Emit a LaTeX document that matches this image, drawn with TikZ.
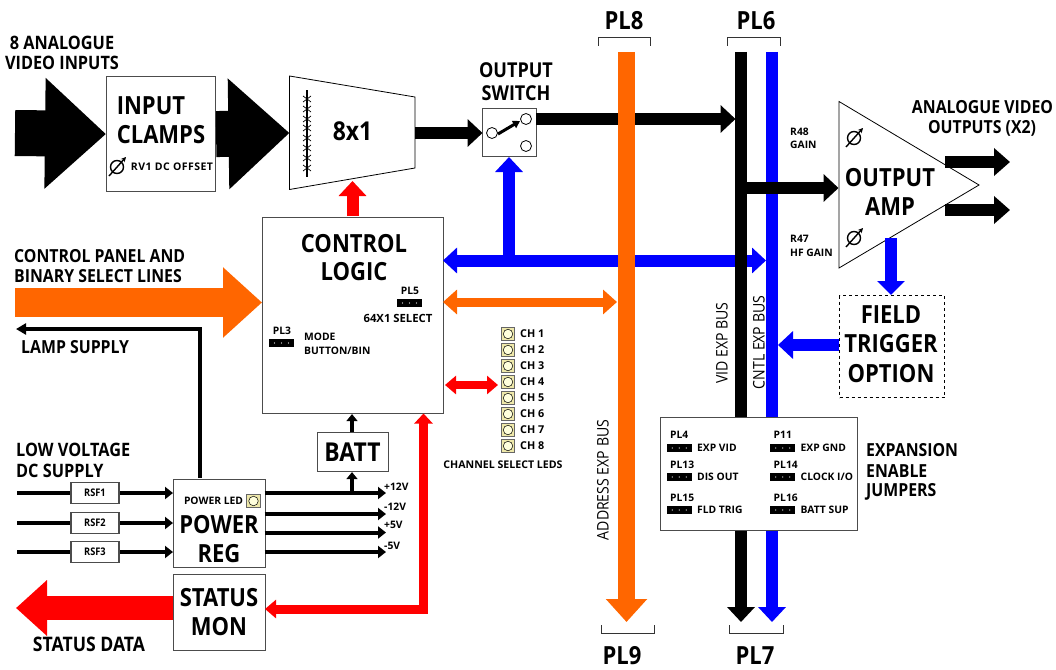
\documentclass[tikz,border=0pt]{standalone}
\usepackage{fontspec}
\setmainfont[FakeStretch=0.88]{Open Sans}
\newfontfamily\widef{Open Sans}
\newfontfamily\spacef[LetterSpace=4.5]{Open Sans}
\usetikzlibrary{arrows.meta,calc}
\definecolor{orng}{RGB}{255,102,0}
\definecolor{ledy}{RGB}{238,232,170}
\definecolor{ledc}{RGB}{255,255,220}
\newcommand{\fs}[1]{\fontsize{#1}{#1}\selectfont\bfseries}
\tikzset{
  box/.style={draw=black!70,line width=1.1pt,fill=white,inner sep=0pt},
  lbl/.style={inner sep=0,align=center,text=black},
  big/.style={lbl,font=\fs{25},yshift=-1pt},
  mid/.style={lbl,font=\fs{18}},
  small/.style={lbl,font=\widef\fs{10.3}},
  fat/.style args={#1/#2/#3/#4}{draw=#1,line width=#2pt,line cap=butt,-{Triangle[length=#3pt,width=#4pt,fill=#1]}},
  fatboth/.style args={#1/#2/#3/#4}{draw=#1,line width=#2pt,{Triangle[length=#3pt,width=#4pt,fill=#1]}-{Triangle[length=#3pt,width=#4pt,fill=#1]}},
  brk/.style={draw=black!80,line width=1pt},
  jump/.style={fill=black,draw=none,minimum width=25pt,minimum height=8pt,inner sep=0pt,
    path picture={\foreach \dx in {-7,0,7}{\fill[white] ($(path picture bounding box.center)+(\dx,0)$) circle (.7pt);}}},
  lednode/.style={rectangle,draw=black!60,fill=ledy,line width=.6pt,minimum size=13.5pt,inner sep=0pt},
  ledcore/.style={circle,draw=black,fill=ledc,line width=.5pt,minimum size=9.5pt,inner sep=0pt},
  port/.style={circle,draw=black,fill=white,line width=.8pt,minimum size=11pt,inner sep=0pt},
  busl/.style={lbl,rotate=90,font=\fontsize{16}{16}\selectfont},
  thinarrow/.style={line width=4pt,-{Triangle[length=8pt,width=12pt]}}
}
\newcommand{\pot}[1]{\draw[line width=1.4pt] (#1) circle (6.5pt);\draw[line width=1.4pt,-{Stealth[length=5pt,width=5pt]}] ($(#1)+(-8,9)$) -- ($(#1)+(9,-10)$);}
\begin{document}
\begin{tikzpicture}[x=1pt,y=-1pt]
\useasboundingbox (0,0) rectangle (1056,669);
% ---- vertical buses
\coordinate (o8) at (626.5,52); \coordinate (o9) at (626.5,622);
\coordinate (k6) at (741,52); \coordinate (k7) at (741,622);
\coordinate (b6) at (772,52); \coordinate (b7) at (772,622);
% horizontal blue bus under bars
\node[box,minimum width=181pt,minimum height=196.5pt,anchor=north west] (ctl) at (262,216.5) {};
\node[box,minimum width=54pt,minimum height=48pt,anchor=north west] (sw) at (482,108) {};
\coordinate (busr) at (766,260.5);
\coordinate (busl) at (443,260.5);
\draw[fatboth=blue/12/14/25] (busl) -- (busr);
\coordinate (busj) at (509,260.5);
\coordinate (swb) at (509,157);
\draw[fat=blue/12/15/27] (busj) -- (swb);
% black video line
\coordinate (swr) at (536,119); \coordinate (vt) at (735.5,119);
\draw[fat=black/12/15/27] (swr) -- (vt);
\draw[fat=orng/17/23/40] (o8) -- (o9);
\draw[fat=blue/12/15/27] (b6) -- (b7);
\coordinate (ampin) at (838.5,188); \coordinate (ampj) at (747,188);
\draw[fat=black/12/15/27] (ampj) -- (ampin);
\draw[fat=black/12/15/27] (k6) -- (k7);
\coordinate (ftb) at (839,345); \coordinate (ftt) at (778,345);
\draw[fat=blue/12/15/27] (ftb) -- (ftt);
% orange bus
\coordinate (orl) at (443,302); \coordinate (orr) at (617,302);
\draw[fatboth=orng/9/14/24] (orl) -- (orr);
% input
\node[box,minimum width=109pt,minimum height=115pt,anchor=north west] (clamp) at (106,76) {};
\coordinate (in1) at (15,133);
\draw[fat=black/46/61/107] (in1) -- (clamp.west);
\coordinate (mxl) at (289.5,133);
\draw[fat=black/46/61/107] (clamp.east) -- (mxl);
\node[big] (t1) at (151,105) {INPUT};
\node[big] (t2) at (161,133.5) {CLAMPS};
\node[lbl,font=\spacef\fs{10.5}] (t3) at (172,167) {RV1 DC OFFSET};
\coordinate (p1) at (117,167); \pot{p1}
% mux
\draw[draw=black,fill=white,line width=.8pt] (289.5,76) -- (415,97) -- (415,168) -- (289.5,189.5) -- cycle;
\coordinate (m1) at (307,90); \coordinate (m2) at (307,177);
\draw[line width=1.6pt] (m1) -- (m2);
\foreach \yy in {99,109,119,128,138,148,158,168}{\draw[line width=.7pt] (303,\yy-3) -- (311,\yy+3) (303,\yy+3) -- (311,\yy-3);}
\node[lbl,font=\fs{26}] (t4) at (352.5,131) {8x1};
\coordinate (mxr) at (415,133); \coordinate (swl) at (482.5,133);
\draw[fat=black/12/15/27] (mxr) -- (swl);
% switch
\node[port] (s1) at (492,133) {};
\node[port] (s2) at (526,119) {};
\node[port] (s3) at (526,146) {};
\draw[line width=3pt,-{Triangle[length=7pt,width=8pt]}] (s1) ++(6,1) -- (520,121);
\node[lbl,font=\fs{20.5}] (t5) at (516,70) {OUTPUT};
\node[lbl,font=\fs{20.5}] (t6) at (516,93) {SWITCH};
% control red up
\coordinate (mxb) at (352.5,181);
\coordinate (ctt) at (352.5,216);
\draw[fat=red/12/15/27] (ctt) -- (mxb);
% control text
\node[big] (t7) at (354,243) {CONTROL};
\node[big] (t8) at (354,271) {LOGIC};
\node[small] (t9) at (410,291) {PL5};
\node[jump] (j5) at (409.5,303) {};
\node[lbl,font=\widef\fs{11.3}] (t10) at (398,318) {64X1 SELECT};
\node[small] (t11) at (282,331) {PL3};
\node[jump] (j3) at (281.5,343) {};
\node[small,anchor=west] (t12) at (304,337) {MODE};
\node[small,anchor=west] (t13) at (304,351) {BUTTON/BIN};
% LEDs
\foreach \n/\yy in {1/334,2/350,3/366,4/382,5/398,6/414,7/430,8/446}{
  \node[lednode] (led\n) at (508,\yy) {};
  \node[ledcore] (ledc\n) at (508,\yy) {};
  \node[lbl,font=\widef\fs{10.8},anchor=west] (ch\n) at (520,\yy) {CH \n};
}
\node[lbl,font=\widef\fs{10.6}] (t14) at (503,465) {CHANNEL SELECT LEDS};
\coordinate (rdr) at (498,385); \coordinate (rdl) at (445,385);
\draw[fatboth=red/8/11/18] (rdl) -- (rdr);
% Left orange
\coordinate (po) at (15,302.5); \coordinate (cl) at (262,302.5);
\draw[fat=orng/29/39/68] (po) -- (cl);
\node[mid,anchor=west] (t15) at (14,256) {CONTROL PANEL AND};
\node[mid,anchor=west] (t16) at (14,276) {BINARY SELECT LINES};
% Power
\node[box,minimum width=91.5pt,minimum height=88.5pt,anchor=north west] (pwr) at (173,478.5) {};
\node[box,minimum width=91.5pt,minimum height=75.5pt,anchor=north west] (stat) at (173,574) {};
\node[box,minimum width=71pt,minimum height=39pt,anchor=north west] (batt) at (317,432) {};
\node[lbl,font=\fs{26}] (t17) at (352.5,452.5) {BATT};
\coordinate (pt) at (200,478); \coordinate (pc) at (200,329); \coordinate (lamp) at (16,329);
\draw[line width=4pt,-{Triangle[length=10pt,width=11pt]}] (pt) -- (pc) -- (lamp);
\node[lbl,font=\fs{18},anchor=west] (t18) at (21,347) {LAMP SUPPLY};
\node[lbl,font=\fs{18.5},anchor=west] (t19) at (16,450) {LOW VOLTAGE};
\node[lbl,font=\fs{18.5},anchor=west] (t20) at (16,471) {DC SUPPLY};
\foreach \n/\yy in {1/493,2/523,3/552}{
  \coordinate (a\n) at (17,\yy);
  \coordinate (c\n) at (173,\yy);
  \draw[thinarrow] (a\n) -- (c\n);
  \node[box,minimum width=48pt,minimum height=21.5pt] (rsf\n) at (95,\yy) {\fs{10.5}RSF\n};
}
\foreach \n/\yy/\ly/\tx in {1/493/487/+12V,2/514/507/-12V,3/532.5/525/+5V,4/552/546/-5V}{
  \coordinate (r\n) at (264.5,\yy); \coordinate (e\n) at (386,\yy);
  \draw[thinarrow] (r\n) -- (e\n);
  \node[small,anchor=west] (v\n) at (384,\ly) {\tx};
}
\coordinate (bj) at (352,493);
\draw[line width=4pt,-{Triangle[length=7pt,width=11pt]}] (bj) -- (batt.south -| bj);
\draw[line width=4pt,-{Triangle[length=7pt,width=11pt]}] (batt.north -| bj) -- (ctl.south -| bj);
\node[small] (t21) at (213.5,501) {POWER LED};
\node[lednode] (pled) at (253.5,501) {};
\node[ledcore] (pledc) at (253.5,501) {};
\node[big] (t22) at (219,524) {POWER};
\node[big] (t23) at (219,553) {REG};
\node[big] (t24) at (219,597) {STATUS};
\node[big] (t25) at (219,626) {MON};
% red supply
\coordinate (rj) at (423.5,609); \coordinate (rt) at (423.5,413.5); \coordinate (rs) at (265,609);
\draw[draw=red,line width=9pt,{Triangle[length=10pt,width=18pt,fill=red]}-{Triangle[length=11pt,width=18pt,fill=red]}] (rt) -- (rj) -- (rs);
\coordinate (sd) at (16,608);
\draw[fat=red/24/31/54] (stat.west |- sd) -- (sd);
\node[lbl,font=\fs{20}] (t26) at (89,644) {STATUS DATA};
% Amp
\draw[draw=black,fill=white,line width=.8pt] (839,101.5) -- (979,185) -- (839,268) -- cycle;
\node[big] (t27) at (890,177) {OUTPUT};
\node[big] (t28) at (890,206) {AMP};
\coordinate (p2) at (854,138); \pot{p2}
\coordinate (p3) at (854,238); \pot{p3}
\coordinate (oa1) at (945,162); \coordinate (ob1) at (1010,162);
\coordinate (oa2) at (945,210); \coordinate (ob2) at (1010,210);
\draw[fat=black/12/16/27] (oa1) -- (ob1);
\draw[fat=black/12/16/27] (oa2) -- (ob2);
\node[mid] (t29) at (982.5,107) {ANALOGUE VIDEO};
\node[mid] (t30) at (982,128) {OUTPUTS (X2)};
\node[small,anchor=west] (t31) at (790,132) {R48};
\node[small,anchor=west] (t32) at (790,145) {GAIN};
\node[small,anchor=west] (t33) at (790,239) {R47};
\node[small,anchor=west] (t34) at (790,253) {HF GAIN};
% field trigger
\node[draw=black,dashed,line width=1pt,fill=white,minimum width=105pt,minimum height=102pt,anchor=north west,inner sep=0] (ft) at (839,295) {};
\coordinate (amb) at (891,238);
\draw[fat=blue/12/14/27] (amb) -- (ft.north -| amb);
\node[big] (t35) at (891,314) {FIELD};
\node[big] (t36) at (891,343) {TRIGGER};
\node[big] (t37) at (891,373) {OPTION};
% jumper box
\node[box,minimum width=197pt,minimum height=113pt,anchor=north west] (jb) at (660,417) {};
\foreach \nm/\px/\py/\tx/\ly in {PL4/666.5/435/EXP VID/448,P11/770/435/EXP GND/448,PL13/666.5/465/DIS OUT/477,PL14/770/465/CLOCK I\slash O/477,PL15/666.5/498/FLD TRIG/510,PL16/770/498/BATT SUP/510}{
  \node[small,anchor=west] (n\nm) at (\px+3.5,\py) {\nm};
  \node[jump,anchor=west] (j\nm) at (\px,\ly) {};
  \node[small,anchor=west] (l\nm) at (\px+30.5,\ly) {\tx};
}
\node[mid,anchor=west] (t38) at (866,450) {EXPANSION};
\node[mid,anchor=west] (t39) at (866,471) {ENABLE};
\node[mid,anchor=west] (t40) at (866,492) {JUMPERS};
% brackets
\coordinate (b1) at (598,46); \coordinate (b2) at (650,46);
\draw[brk] (b1) -- ++(0,-8) -| (b2);
\coordinate (b3) at (727,46); \coordinate (b4) at (780,46);
\draw[brk] (b3) -- ++(0,-8) -| (b4);
\coordinate (b5) at (601,625); \coordinate (b6a) at (654,625);
\draw[brk] (b5) -- ++(0,8) -| (b6a);
\coordinate (b7a) at (729,625); \coordinate (b8) at (783,625);
\draw[brk] (b7a) -- ++(0,8) -| (b8);
\node[big] (t41) at (624,20) {PL8};
\node[big] (t42) at (756,20) {PL6};
\node[big] (t43) at (622,655) {PL9};
\node[big] (t44) at (755,655) {PL7};
\node[lbl,font=\fs{18.5}] (t45) at (62,43) {8 ANALOGUE};
\node[lbl,font=\fs{18.5}] (t46) at (62,63) {VIDEO INPUTS};
% rotated
\node[busl] (t47) at (722,343) {VID EXP BUS};
\node[busl] (t48) at (759,342.5) {CNTL EXP BUS};
\node[busl] (t49) at (603,480) {ADDRESS EXP BUS};
\end{tikzpicture}
\end{document}
